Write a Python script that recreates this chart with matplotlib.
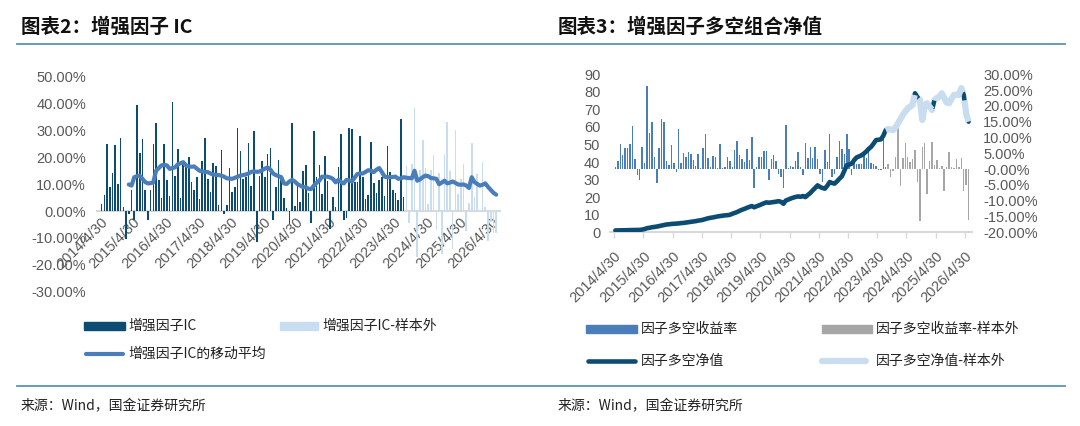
import matplotlib
matplotlib.use("Agg")
import matplotlib.pyplot as plt
from matplotlib.lines import Line2D
from matplotlib.patches import Rectangle
import numpy as np

plt.rcParams['font.family'] = ['Noto Sans CJK SC', 'DejaVu Sans']

# ---------------- data ----------------
year_labels = ["2014/4/30", "2015/4/30", "2016/4/30", "2017/4/30", "2018/4/30", "2019/4/30",
               "2020/4/30", "2021/4/30", "2022/4/30", "2023/4/30", "2024/4/30", "2025/4/30", "2026/4/30"]

# Chart 2: monthly IC (%), in-sample and out-of-sample
ic_in = [2.6, 6, 25, 9, 14, 24.5, 10, 27.3, 1.6, -10.5, -1, 8, -3.5, 39.4, 21.6, 27, 8, -3.5, 8, 25,
         32.8, 11.6, 4.7, 24.8, 11.6, 5.6, 40.5, 13.2, 23.2, 4.9, 18, 17, 20, 10.7, 7.9, 12.8, 4.4, 18.5, 27.3, 11.8,
         7.1, 17.8, 16.8, 2.4, 22.8, -1, 2.4, 16, 7, 8.9, 30.8, 22.3, 12, 12.5, 25.5, 9.4, 29.9, -11.6, 13, 18.8,
         12.6, 21.2, 23.6, -3.5, 9.1, 19, 13.6, 4.9, 1, -4.9, 32.8, 2, 10, 3.5, 14.8, 17, 6.6, -4.5, 29.7, 12.6,
         17.2, 6.2, 20.6, 11.3, -6.5, 5.4, 1.7, 16.3, 28.7, -3.5, -2.5, 31, 30.5, 10.7, 10.7, 27.8, 12.6, 4.4, 6.1, 25.7,
         10.5, 6.6, 11.6, 12.6, 5.6, 24.4, 14.7, 7.9, 6.7, 4.1, 34.4, 5.4]
ic_out = [16.6, -4.5, 17.6, 38.4, -17, 15.3, 26.5, 16.0, 2.6, 15.3, 21.0, -7.0, 14.3, -16, 20.7, 33, 15, -14,
          30, 6.3, 12, 17.6, -7.5, 3, 25.3, 5.4, 13.8, 0.3, 18.2, 1.4, -11, -4, -8, -8]
# moving average of IC (%), available from month 10 onwards
ma_start = 10
ic_ma = [9.9, 9.5, 12.6, 13.0, 13.2, 12.0, 10.8, 10.3, 10.4, 10.7,
         15.0, 16.0, 17.0, 17.2, 17.0, 15.7, 16.0, 16.3, 17.4, 17.8,
         18.2, 17.0, 16.6, 16.5, 16.6, 15.8, 15.0, 14.8, 14.6, 14.5,
         14.0, 13.6, 13.5, 13.4, 13.2, 12.8, 12.2, 12.1, 12.0, 12.4,
         12.8, 13.2, 13.4, 13.6, 14.0, 14.6, 14.8, 14.6, 14.7, 15.2,
         15.8, 16.2, 15.5, 14.0, 13.4, 13.0, 12.6, 10.3, 10.1, 11.0,
         11.6, 11.0, 10.0, 9.5, 8.9, 8.9, 8.3, 8.2, 9.5, 10.5,
         11.3, 12.8, 12.8, 12.8, 12.5, 12.0, 10.7, 11.6, 10.8, 10.3,
         11.6, 11.4, 11.0, 12.5, 13.8, 14.0, 14.0, 14.6, 15.2, 15.0,
         14.5, 15.4, 16.0, 14.5, 12.8, 12.6, 12.6, 12.7, 12.8, 12.0,
         12.2, 12.6, 12.4, 12.3, 12.2, 15.0, 11.3, 11.8, 12.6, 13.2,
         13.0, 12.3, 12.2, 12.0, 10.0, 10.6, 11.3, 10.3, 10.6, 11.0,
         10.5, 9.9, 9.8, 9.9, 9.5, 8.6, 12.6, 10.8, 10.1, 9.5,
         9.8, 10.3, 9.0, 7.9, 6.8, 6.1]

# Chart 3: long-short monthly return (%) and net value
ret_in = [0.7, 2.7, 8, 4.6, 6.7, 6.7, 8, 13.5, 3.2, -2, -3.5, 7.1, 2, 26.3, 11.5, 15, 3.9, -4.5, 6.7, 16,
          15, 2.7, 1.4, 7.7, 1.8, -1, 12.8, 2, 5, 3.7, 5.3, 4.8, 2.9, 1.1, 4.8, 0.3, 6.7, 11.2, 3.5, 0.7,
          4.1, 3.9, 0.3, 7.8, 0.3, 0.5, 3.9, 2.7, 0.5, 5.9, 9, 4.6, 3.2, 2.1, 6.4, 2.9, 10.3, -6, 0.7, 3.7,
          3.9, 5.6, 5.6, -3.5, 3.2, 4.3, 2.7, -1.5, -2.5, -6, 14.1, 0.3, 1.1, 0.5, 2.7, 5.3, 0.5, -2, 8.2, 3.5,
          6.9, 3.5, 7.1, 3.2, -1.5, -4, 5.9, 2.1, 11.2, -2.5, -1.5, 3.7, 8.8, 6.4, 4.8, 11.2, 6.4, -2, 2.7, 1.6,
          1.6, 1.6, 4.8, 3.5, 5.9, 1.8, 1.6, 1.1, -0.3, -0.3, 11, 0.7]
ret_out = [1.6, -2.5, -0.5, 3.7, 13.1, -5.5, 3.5, 8.2, 3.7, 2.1, 3.2, 6.1, -4, -16.5, 6.9, 8.2, -8,
           2.7, 8.5, 1.4, 2.9, 0.3, 1.1, -7, 0.5, 5.3, 0.5, 0.3, 3.2, 0.5, 3.5, -7, -5, -16]
nav_in = [1.0, 1.0, 1.05, 1.1, 1.1, 1.15, 1.2, 1.2, 1.25, 1.3,
          1.3, 1.5, 1.8, 2.3, 2.5, 2.8, 3.0, 3.2, 3.5, 3.8,
          4.1, 4.4, 4.5, 4.7, 4.8, 4.9, 5.0, 5.2, 5.3, 5.5,
          5.7, 5.9, 6.1, 6.3, 6.6, 6.8, 7.1, 7.5, 7.9, 8.2,
          8.4, 8.7, 9.0, 9.2, 9.4, 9.6, 9.7, 9.9, 10.5, 11.0,
          11.5, 12.2, 12.8, 13.3, 13.9, 14.4, 14.9, 14.2, 14.8, 15.3,
          15.9, 16.5, 17.0, 16.8, 17.0, 17.2, 17.4, 17.7, 17.3, 16.2,
          18.1, 18.6, 19.2, 19.7, 20.1, 20.4, 20.2, 20.6, 20.0, 21.2,
          22.3, 23.8, 25.2, 26.7, 25.8, 25.2, 24.8, 26.5, 28.6, 28.0,
          27.7, 29.0, 30.5, 31.9, 35.0, 38.2, 38.5, 39.1, 41.0, 42.6,
          43.2, 43.8, 44.8, 46.0, 47.5, 48.7, 50.5, 52.5, 52.7, 52.9,
          55.0, 58.2]
nav_out = [58.8, 58.5, 58.2, 59.7, 62.0, 64.5, 66.8, 68.8,
           70.6, 71.5, 72.5, 79.2, 77.0, 75.4, 64.0, 72.5, 73.5, 71.5,
           69.7, 75.4, 76.5, 77.3, 79.2, 76.5, 73.9, 73.5, 76.0, 78.3,
           78.3, 78.3, 82.1, 78.3, 67.7, 63.0]

# ---------------- styles ----------------
C_DARK = '#0D4C72'
C_LIGHT = '#C9DDF0'
C_MA = '#4A7EBB'
C_RET = '#4A7EBB'
C_GRAY = '#A6A6A6'
C_TICK = '#595959'
C_BASE = '#D9D9D9'
C_RULE = '#5A92B8'
NUM_FONT = ['Liberation Sans', 'DejaVu Sans']
CJK = ['Noto Sans CJK SC', 'DejaVu Sans']

W, H = 1080, 426
fig = plt.figure(figsize=(W / 100, H / 100), dpi=100)


def px_axes(x0, y0, x1, y1):
    return fig.add_axes([x0 / W, 1 - y1 / H, (x1 - x0) / W, (y1 - y0) / H])


n_in = len(ic_in)
n_all = n_in + len(ic_out)
x_in = np.arange(n_in)
x_out = np.arange(n_in, n_all)
tick_pos = np.arange(len(year_labels)) * 12 - 0.5

# ---------------- chart 2 ----------------
ax = px_axes(97, 76.7, 500, 291.7)
ax.bar(x_in, np.array(ic_in) / 100, width=0.6, color=C_DARK, zorder=2)
ax.bar(x_out, np.array(ic_out) / 100, width=0.6, color=C_LIGHT, zorder=2)
ax.plot(np.arange(ma_start, ma_start + len(ic_ma)), np.array(ic_ma) / 100, color=C_MA, lw=3.0,
        solid_joinstyle='round', solid_capstyle='round', zorder=3)
ax.set_ylim(-0.30, 0.50)
ax.set_xlim(-1.7, 146.4)
ax.set_yticks(np.arange(-0.30, 0.501, 0.10))
ax.set_yticklabels([f"{v * 100:.2f}%" for v in np.arange(-0.30, 0.501, 0.10)])
for s in ['top', 'right', 'left']:
    ax.spines[s].set_visible(False)
ax.spines['bottom'].set_position(('data', 0))
ax.spines['bottom'].set_color(C_BASE)
ax.spines['bottom'].set_linewidth(1.5)
ax.spines['bottom'].set_zorder(1)
ax.set_xticks(tick_pos)
ax.set_xticklabels(year_labels, rotation=45, ha='right', rotation_mode='anchor')
ax.tick_params(axis='x', length=0, pad=3, labelsize=10.5, labelcolor=C_TICK)
ax.tick_params(axis='y', length=0, pad=8, labelsize=10.5, labelcolor=C_TICK)
for lab in ax.get_xticklabels() + ax.get_yticklabels():
    lab.set_family(NUM_FONT)
ax.patch.set_visible(False)

# ---------------- chart 3 ----------------
axn = px_axes(610, 74.3, 972, 232.2)
axr = axn.twinx()
axr.bar(x_in, np.array(ret_in) / 100, width=0.6, color=C_RET, zorder=2)
axr.bar(x_out, np.array(ret_out) / 100, width=0.6, color=C_GRAY, zorder=2)
axr.set_ylim(-0.20, 0.30)
axr.set_yticks(np.arange(-0.20, 0.301, 0.05))
axr.set_yticklabels([f"{v * 100:.2f}%" for v in np.arange(-0.20, 0.301, 0.05)])

axn.set_zorder(axr.get_zorder() + 1)
axn.patch.set_visible(False)
nav_all = nav_in + nav_out
axn.plot(np.arange(n_all), nav_all, color=C_DARK, lw=3.3, solid_joinstyle='round',
         solid_capstyle='round', zorder=3)
axn.plot(np.arange(n_in - 1, n_all), [nav_in[-1]] + nav_out, color=C_LIGHT, lw=4.5,
         dashes=(8, 1.3), dash_capstyle='butt', dash_joinstyle='round', zorder=4)
axn.set_ylim(0, 90)
axn.set_xlim(-2.2, 146.4)
axn.set_yticks(np.arange(0, 91, 10))
axn.set_xticks(tick_pos)
axn.set_xticklabels(year_labels, rotation=45, ha='right', rotation_mode='anchor')
for a in (axn, axr):
    for s in ['top', 'right', 'left']:
        a.spines[s].set_visible(False)
    a.spines['bottom'].set_visible(False)
axn.spines['bottom'].set_visible(True)
axn.spines['bottom'].set_color(C_BASE)
axn.spines['bottom'].set_linewidth(1.5)
axn.tick_params(axis='x', length=4, width=1, color=C_BASE, pad=8, labelsize=10.5, labelcolor=C_TICK)
axn.tick_params(axis='y', length=0, pad=7, labelsize=10.5, labelcolor=C_TICK)
axr.tick_params(axis='y', length=0, pad=8, labelsize=10.5, labelcolor=C_TICK)
for lab in axn.get_xticklabels() + axn.get_yticklabels() + axr.get_yticklabels():
    lab.set_family(NUM_FONT)

# ---------------- overlay: titles, legends, rules, sources ----------------
ov = fig.add_axes([0, 0, 1, 1], zorder=10)
ov.set_xlim(0, W)
ov.set_ylim(H, 0)
ov.axis('off')
ov.patch.set_visible(False)

ov.text(21, 27, "图表2：增强因子 IC", fontsize=14, fontweight='bold', family=CJK,
        va='center', ha='left', color='#111111')
ov.text(558, 27, "图表3：增强因子多空组合净值", fontsize=14, fontweight='bold', family=CJK,
        va='center', ha='left', color='#111111')
ov.add_line(Line2D([17, 1065], [43.7, 43.7], color=C_RULE, lw=1.3))
ov.add_line(Line2D([17, 1065], [386, 386], color=C_RULE, lw=1.3))

LEG_FS = 10
# left legend
ov.add_patch(Rectangle((84, 322), 41, 8, color=C_DARK))
ov.text(128, 326, "增强因子IC", fontsize=LEG_FS, family=CJK, va='center', ha='left', color='#222222')
ov.add_patch(Rectangle((280, 322), 38, 8, color=C_LIGHT))
ov.text(322, 326, "增强因子IC-样本外", fontsize=LEG_FS, family=CJK, va='center', ha='left', color='#222222')
ov.add_line(Line2D([86, 123], [354, 354], color=C_MA, lw=3.0, solid_capstyle='round'))
ov.text(128, 354, "增强因子IC的移动平均", fontsize=LEG_FS, family=CJK, va='center', ha='left', color='#222222')
# right legend
ov.add_patch(Rectangle((586, 325), 51, 8, color=C_RET))
ov.text(641, 329, "因子多空收益率", fontsize=LEG_FS, family=CJK, va='center', ha='left', color='#222222')
ov.add_patch(Rectangle((822, 325), 50, 8, color=C_GRAY))
ov.text(876, 329, "因子多空收益率-样本外", fontsize=LEG_FS, family=CJK, va='center', ha='left', color='#222222')
ov.add_line(Line2D([588, 635], [361, 361], color=C_DARK, lw=3.3, solid_capstyle='round'))
ov.text(641, 361, "因子多空净值", fontsize=LEG_FS, family=CJK, va='center', ha='left', color='#222222')
ov.add_line(Line2D([822, 872], [361, 361], color=C_LIGHT, lw=4.5, dashes=(7, 2.5), dash_capstyle='round'))
ov.text(876, 361, "因子多空净值-样本外", fontsize=LEG_FS, family=CJK, va='center', ha='left', color='#222222')

ov.text(21, 406, "来源：Wind，国金证券研究所", fontsize=10, family=CJK, va='center', ha='left', color='#222222')
ov.text(558, 406, "来源：Wind，国金证券研究所", fontsize=10, family=CJK, va='center', ha='left', color='#222222')

fig.savefig("out.png", dpi=100)
